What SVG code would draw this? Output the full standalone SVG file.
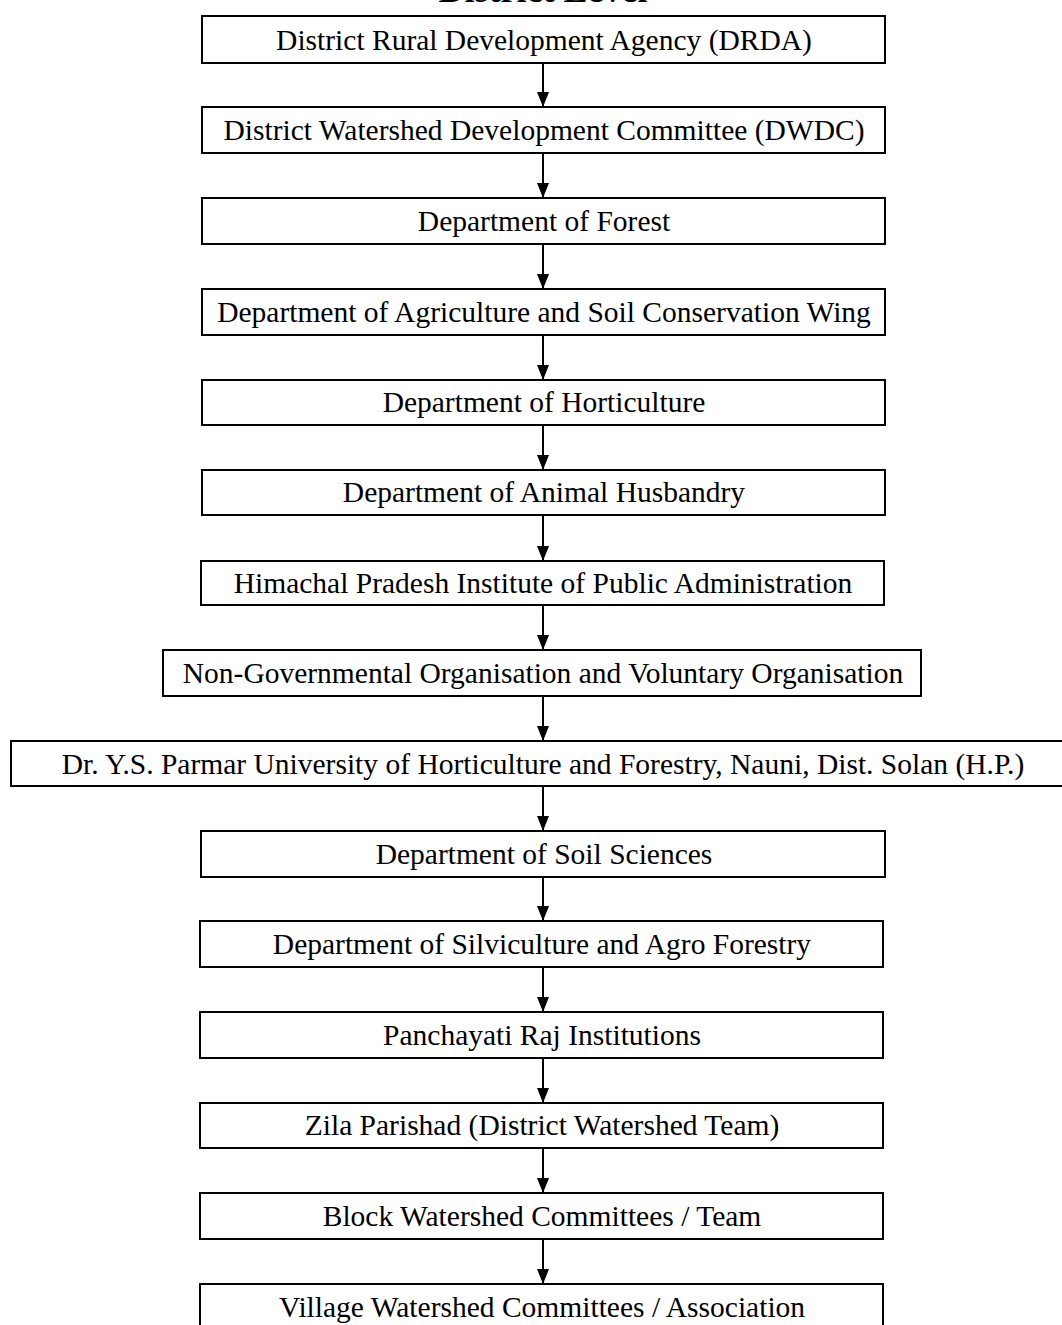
<svg xmlns="http://www.w3.org/2000/svg" width="1062" height="1325" viewBox="0 0 1062 1325">
<style>
.b{fill:#fff;stroke:#000;stroke-width:2}
.t{font-family:"Liberation Serif","Times New Roman",serif;font-size:29.5px;fill:#000;text-anchor:middle}
.c{stroke:#000;stroke-width:2;fill:none}
</style>
<defs><marker id="ah" markerWidth="15" markerHeight="12" refX="15" refY="6" orient="auto" markerUnits="userSpaceOnUse" viewBox="0 0 15 12"><path d="M0,0 L15,6 L0,12 Z" fill="#000"/></marker></defs>
<rect width="1062" height="1325" fill="#fff"/>
<text x="543" y="2" style="font-family:'Liberation Serif',serif;font-size:36px;font-weight:bold;text-anchor:middle">District Level</text>
<g id="connectors">
<line class="c" x1="543" y1="63" x2="543" y2="107" marker-end="url(#ah)"/>
<line class="c" x1="543" y1="153" x2="543" y2="198" marker-end="url(#ah)"/>
<line class="c" x1="543" y1="244" x2="543" y2="289" marker-end="url(#ah)"/>
<line class="c" x1="543" y1="335" x2="543" y2="380" marker-end="url(#ah)"/>
<line class="c" x1="543" y1="425" x2="543" y2="470" marker-end="url(#ah)"/>
<line class="c" x1="543" y1="515" x2="543" y2="561" marker-end="url(#ah)"/>
<line class="c" x1="543" y1="605" x2="543" y2="650" marker-end="url(#ah)"/>
<line class="c" x1="543" y1="696" x2="543" y2="741" marker-end="url(#ah)"/>
<line class="c" x1="543" y1="786" x2="543" y2="831" marker-end="url(#ah)"/>
<line class="c" x1="543" y1="877" x2="543" y2="921" marker-end="url(#ah)"/>
<line class="c" x1="543" y1="967" x2="543" y2="1012" marker-end="url(#ah)"/>
<line class="c" x1="543" y1="1058" x2="543" y2="1103" marker-end="url(#ah)"/>
<line class="c" x1="543" y1="1148" x2="543" y2="1193" marker-end="url(#ah)"/>
<line class="c" x1="543" y1="1239" x2="543" y2="1284" marker-end="url(#ah)"/>
</g>
<g id="n1"><rect class="b" x="202" y="16" width="683" height="47"/><text class="t" x="544" y="50">District Rural Development Agency (DRDA)</text></g>
<g id="n2"><rect class="b" x="202" y="107" width="683" height="46"/><text class="t" x="544" y="140">District Watershed Development Committee (DWDC)</text></g>
<g id="n3"><rect class="b" x="202" y="198" width="683" height="46"/><text class="t" x="544" y="231">Department of Forest</text></g>
<g id="n4"><rect class="b" x="202" y="289" width="683" height="46"/><text class="t" x="544" y="322">Department of Agriculture and Soil Conservation Wing</text></g>
<g id="n5"><rect class="b" x="202" y="380" width="683" height="45"/><text class="t" x="544" y="412">Department of Horticulture</text></g>
<g id="n6"><rect class="b" x="202" y="470" width="683" height="45"/><text class="t" x="544" y="502">Department of Animal Husbandry</text></g>
<g id="n7"><rect class="b" x="201" y="561" width="683" height="44"/><text class="t" x="543" y="593">Himachal Pradesh Institute of Public Administration</text></g>
<g id="n8"><rect class="b" x="163" y="650" width="758" height="46"/><text class="t" x="543" y="683">Non-Governmental Organisation and Voluntary Organisation</text></g>
<g id="n9"><rect class="b" x="11" y="741" width="1060" height="45"/><text class="t" x="543" y="774">Dr. Y.S. Parmar University of Horticulture and Forestry, Nauni, Dist. Solan (H.P.)</text></g>
<g id="n10"><rect class="b" x="201" y="831" width="684" height="46"/><text class="t" x="544" y="864">Department of Soil Sciences</text></g>
<g id="n11"><rect class="b" x="200" y="921" width="683" height="46"/><text class="t" x="542" y="954">Department of Silviculture and Agro Forestry</text></g>
<g id="n12"><rect class="b" x="200" y="1012" width="683" height="46"/><text class="t" x="542" y="1045">Panchayati Raj Institutions</text></g>
<g id="n13"><rect class="b" x="200" y="1103" width="683" height="45"/><text class="t" x="542" y="1135">Zila Parishad (District Watershed Team)</text></g>
<g id="n14"><rect class="b" x="200" y="1193" width="683" height="46"/><text class="t" x="542" y="1226">Block Watershed Committees / Team</text></g>
<g id="n15"><rect class="b" x="200" y="1284" width="683" height="50"/><text class="t" x="542" y="1317">Village Watershed Committees / Association</text></g>
</svg>
